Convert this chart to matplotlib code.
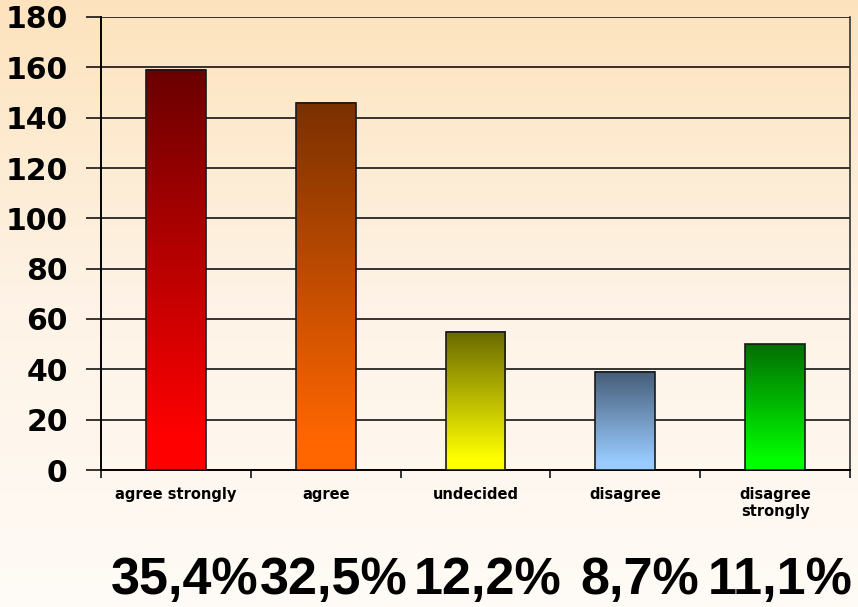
import numpy as np
import matplotlib
matplotlib.use("Agg")
import matplotlib.pyplot as plt
from matplotlib.colors import LinearSegmentedColormap
from matplotlib import font_manager

categories = ["agree strongly", "agree", "undecided", "disagree", "disagree\nstrongly"]
values = [159, 146, 55, 39, 50]
percent_labels = ["35,4%", "32,5%", "12,2%", "8,7%", "11,1%"]
top_colors = ["#6A0000", "#7A3000", "#6A6A00", "#465C78", "#006E00"]
bottom_colors = ["#FF0000", "#FF6600", "#FFFF00", "#99CCFF", "#00FF00"]
yticks = [0, 20, 40, 60, 80, 100, 120, 140, 160, 180]

W, H = 858, 607
fig = plt.figure(figsize=(W / 100, H / 100), dpi=100)

# background gradient
bg = fig.add_axes([0, 0, 1, 1], zorder=-10)
bg_cmap = LinearSegmentedColormap.from_list("bg", ["#FFFBF6", "#FEF3E6", "#FDE3BD"])
grad = np.linspace(0, 1, 256).reshape(-1, 1)
bg.imshow(grad, aspect="auto", cmap=bg_cmap, extent=(0, 1, 0, 1), origin="lower")
bg.set_axis_off()

left, right, bottom, top = 101 / W, 850 / W, 1 - 470 / H, 1 - 17 / H
ax = fig.add_axes([left, bottom, right - left, top - bottom])
ax.patch.set_alpha(0)

x = np.arange(len(values))
bw = 0.4

for i, (v, tc, bc) in enumerate(zip(values, top_colors, bottom_colors)):
    cm = LinearSegmentedColormap.from_list(f"c{i}", [(0, bc), (0.08, bc), (1, tc)])
    ax.imshow(grad, aspect="auto", cmap=cm, origin="lower",
              extent=(x[i] - bw / 2, x[i] + bw / 2, 0, v), zorder=3)
ax.bar(x, values, width=bw, facecolor="none", edgecolor="#1a1a1a", linewidth=1.2, zorder=4)
ax.set_xlim(-0.5, len(values) - 0.5)
ax.set_ylim(0, 180)

ax.set_yticks(yticks)
ax.grid(axis="y", color="black", linewidth=1.1, zorder=1)
ax.set_axisbelow(True)
ax.tick_params(axis="y", length=11, width=1.1, pad=13, labelsize=21.5)
for lab in ax.get_yticklabels():
    lab.set_fontweight("bold")
    lab.set_family("DejaVu Sans")

ax.set_xticks(np.arange(len(values) + 1) - 0.5, minor=False)
ax.set_xticklabels([])
ax.set_xticks(x, minor=True)
ax.set_xticklabels(categories, minor=True, fontsize=10.5, fontweight="bold")
ax.tick_params(axis="x", which="major", length=6, width=1.1, direction="out")
ax.tick_params(axis="x", which="minor", length=0, pad=12)

for s in ["left", "bottom"]:
    ax.spines[s].set_linewidth(1.4)
    ax.spines[s].set_color("black")
ax.spines["top"].set_visible(False)
ax.spines["right"].set_color("#333333")
ax.spines["right"].set_linewidth(1.2)

# percentages
fams = [f.name for f in font_manager.fontManager.ttflist]
pfam = "Liberation Sans Narrow" if "Liberation Sans Narrow" in fams else "Liberation Sans"
pos = [185, 334, 488, 640, 780]
for p, xp in zip(percent_labels, pos):
    fig.text(xp / W, 1 - 580 / H, p, ha="center", va="center", fontsize=37.5,
             fontweight="bold", family=pfam)

fig.savefig("out.png", dpi=100)
